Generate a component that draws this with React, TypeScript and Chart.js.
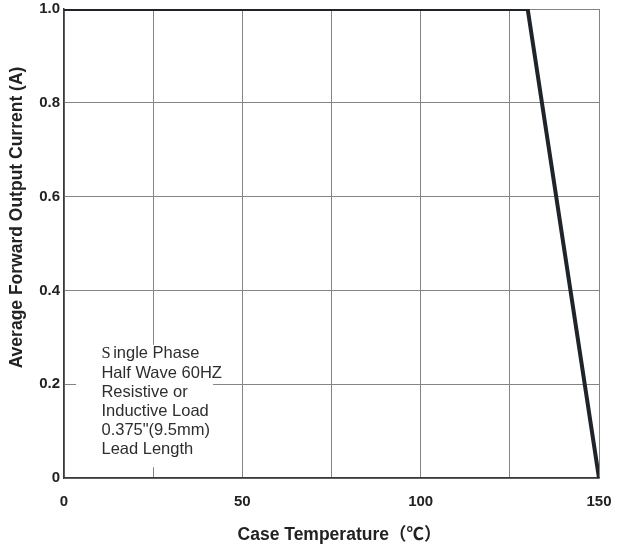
import React, { useEffect, useRef } from "react";
import { Chart, registerables } from "chart.js";

Chart.register(...registerables);

const curveX: number[] = [0, 130, 150];
const curveY: number[] = [1.0, 1.0, 0];
const xTickValues: number[] = [0, 50, 100, 150];
const yTickValues: number[] = [0, 0.2, 0.4, 0.6, 0.8, 1.0];
const noteLines: string[] = ["ingle Phase", "Half Wave 60HZ", "Resistive or", "Inductive Load", "0.375\"(9.5mm)", "Lead Length"];
const noteFirstLetter = "S";
const xTitle = "Case Temperature（℃）";
const yTitle = "Average Forward Output Current (A)";

const SANS = "'Liberation Sans', Arial, 'Noto Sans CJK SC', sans-serif";

const zeroPadding = (scale: any) => {
  scale.paddingTop = 0;
  scale.paddingBottom = 0;
  scale.paddingLeft = 0;
  scale.paddingRight = 0;
};

const annotationPlugin = {
  id: "noteBox",
  beforeDatasetsDraw(chart: any) {
    const { ctx, scales } = chart;
    const xs = scales.x;
    const ys = scales.y;
    const x0 = xs.getPixelForValue(3.4);
    const x1 = xs.getPixelForValue(41.8);
    const y0 = ys.getPixelForValue(0.284);
    const y1 = ys.getPixelForValue(0.023);
    ctx.save();
    ctx.fillStyle = "#ffffff";
    ctx.fillRect(x0, y0, x1 - x0, y1 - y0);
    const tx = xs.getPixelForValue(10.5);
    let by = y0 + 13.5;
    ctx.fillStyle = "#2e2e2e";
    ctx.textBaseline = "alphabetic";
    ctx.textAlign = "left";
    noteLines.forEach((line, i) => {
      if (i === 0) {
        ctx.font = "16.5px 'Liberation Serif', 'Times New Roman', serif";
        ctx.fillText(noteFirstLetter, tx, by);
        const w = ctx.measureText(noteFirstLetter).width;
        ctx.font = "16.5px " + SANS;
        ctx.fillText(line, tx + w + 2.5, by);
      } else {
        ctx.font = "16.5px " + SANS;
        ctx.fillText(line, tx, by);
      }
      by += 19.2;
    });
    ctx.restore();
  },
  afterDraw(chart: any) {
    const { ctx, chartArea } = chart;
    ctx.save();
    ctx.font = "bold 17.5px " + SANS;
    ctx.fillStyle = "#222222";
    ctx.textAlign = "center";
    ctx.textBaseline = "middle";
    ctx.fillText(xTitle, (chartArea.left + chartArea.right) / 2 + 8, chartArea.bottom + 57);
    ctx.translate(17, (chartArea.top + chartArea.bottom) / 2 - 26);
    ctx.rotate(-Math.PI / 2);
    ctx.fillText(yTitle, 0, 0);
    ctx.restore();
  },
};

export default function App() {
  const ref = useRef<HTMLCanvasElement | null>(null);
  useEffect(() => {
    if (!ref.current) return;
    const chart = new Chart(ref.current, {
      type: "line",
      data: {
        datasets: [
          {
            data: curveX.map((x, i) => ({ x, y: curveY[i] })),
            borderColor: "#1f242b",
            borderWidth: 4,
            pointRadius: 0,
            fill: false,
            tension: 0,
          },
        ],
      },
      options: {
        animation: false,
        responsive: true,
        maintainAspectRatio: false,
        layout: { padding: { top: 9, right: 20, left: 0, bottom: 0 } },
        plugins: { legend: { display: false }, tooltip: { enabled: false } },
        scales: {
          x: {
            type: "linear",
            min: 0,
            max: 150,
            afterBuildTicks: (scale: any) => {
              const t: any[] = [];
              for (let v = 0; v <= 150; v += 25) t.push({ value: v });
              scale.ticks = t;
            },
            afterFit: (scale: any) => {
              scale.height = 72;
              zeroPadding(scale);
            },
            ticks: {
              autoSkip: false,
              maxRotation: 0,
              padding: 15,
              color: "#222222",
              font: { family: SANS, size: 15, weight: "bold" },
              callback: (v: any) => (xTickValues.includes(Number(v)) ? String(v) : ""),
            },
            grid: { color: "#848484", lineWidth: 1, drawTicks: false },
            border: { color: "#3a3a3a", width: 1.5 },
          },
          y: {
            type: "linear",
            min: 0,
            max: 1.0,
            afterBuildTicks: (scale: any) => {
              scale.ticks = yTickValues.map((v) => ({ value: v }));
            },
            afterFit: (scale: any) => {
              scale.width = 64;
              zeroPadding(scale);
            },
            ticks: {
              padding: 4,
              color: "#222222",
              font: { family: SANS, size: 15, weight: "bold" },
              callback: (v: any) => (Number(v) === 0 ? "0" : Number(v).toFixed(1)),
            },
            grid: { color: "#848484", lineWidth: 1, drawTicks: false },
            border: { color: "#3a3a3a", width: 1.5 },
          },
        },
      },
      plugins: [annotationPlugin],
    } as any);
    return () => chart.destroy();
  }, []);
  return (
    <div style={{ position: "fixed", left: 0, top: 0, width: 619, height: 550, background: "#ffffff" }}>
      <canvas ref={ref} />
    </div>
  );
}
